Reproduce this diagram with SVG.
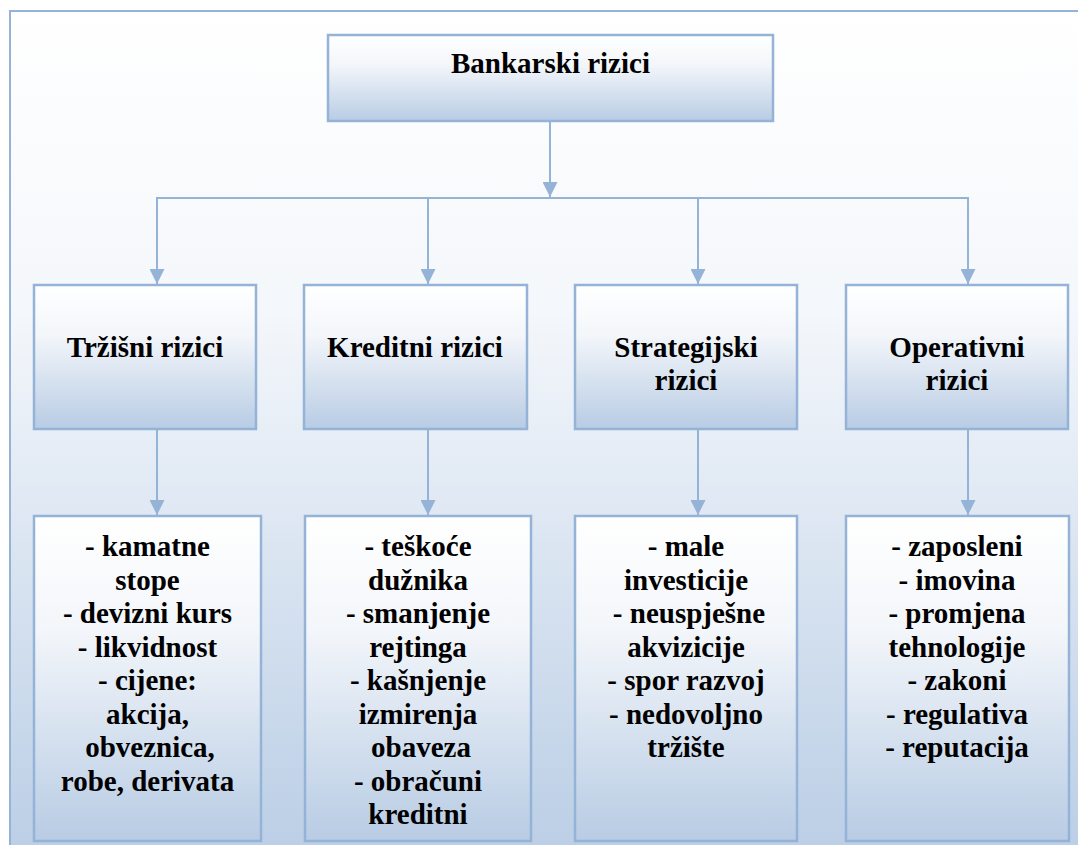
<svg xmlns="http://www.w3.org/2000/svg" width="1078" height="845" viewBox="0 0 1078 845">
  <defs>
    <linearGradient id="bgGrad" x1="0" y1="0" x2="0" y2="1">
      <stop offset="0" stop-color="#ffffff"/>
      <stop offset="0.35" stop-color="#f4f7fb"/>
      <stop offset="1" stop-color="#b9cde5"/>
    </linearGradient>
    <linearGradient id="boxGrad" x1="0" y1="0" x2="0" y2="1">
      <stop offset="0" stop-color="#ffffff"/>
      <stop offset="0.35" stop-color="#f3f6fa"/>
      <stop offset="1" stop-color="#b8cce4"/>
    </linearGradient>
    <marker id="arrow" viewBox="0 0 15 15" refX="15" refY="7.5" markerWidth="15" markerHeight="15" markerUnits="userSpaceOnUse" orient="auto">
      <path d="M0,0 L15,7.5 L0,15 Z" fill="#95b3d7"/>
    </marker>
    <style>
      .box { fill: url(#boxGrad); stroke: #95b3d7; stroke-width: 2.5; }
      .link { fill: none; stroke: #95b3d7; stroke-width: 2; }
      .label { font-family: "Liberation Serif", "Times New Roman", serif; font-weight: bold; font-size: 29px; fill: #000; text-anchor: middle; }
    </style>
  </defs>

  <!-- frame -->
  <rect x="10" y="11" width="1090" height="860" fill="url(#bgGrad)" stroke="#95b3d7" stroke-width="2"/>

  <!-- connectors -->
  <g id="connectors">
    <path class="link" d="M550,121 V197" marker-end="url(#arrow)"/>
    <path class="link" d="M157,285 V198 H968 V285" />
    <path class="link" d="M157,198 V284" marker-end="url(#arrow)"/>
    <path class="link" d="M428,198 V284" marker-end="url(#arrow)"/>
    <path class="link" d="M698,198 V284" marker-end="url(#arrow)"/>
    <path class="link" d="M968,198 V284" marker-end="url(#arrow)"/>
    <path class="link" d="M157,429 V515" marker-end="url(#arrow)"/>
    <path class="link" d="M428,429 V515" marker-end="url(#arrow)"/>
    <path class="link" d="M698,429 V515" marker-end="url(#arrow)"/>
    <path class="link" d="M968,429 V515" marker-end="url(#arrow)"/>
  </g>

  <!-- root -->
  <g id="bankarski-rizici">
    <rect class="box" x="328" y="35" width="445" height="86"/>
    <text class="label" x="550.5" y="73">Bankarski rizici</text>
  </g>

  <!-- categories -->
  <g id="trzisni-rizici">
    <rect class="box" x="34" y="285" width="222" height="144"/>
    <text class="label" x="145" y="357">Tržišni rizici</text>
  </g>
  <g id="kreditni-rizici">
    <rect class="box" x="304" y="285" width="223" height="144"/>
    <text class="label" x="415" y="357">Kreditni rizici</text>
  </g>
  <g id="strategijski-rizici">
    <rect class="box" x="575" y="285" width="222" height="144"/>
    <text class="label" x="686" y="357">Strategijski</text>
    <text class="label" x="686" y="390">rizici</text>
  </g>
  <g id="operativni-rizici">
    <rect class="box" x="846" y="285" width="222" height="144"/>
    <text class="label" x="957" y="357">Operativni</text>
    <text class="label" x="957" y="390">rizici</text>
  </g>

  <!-- detail lists -->
  <g id="trzisni-detalji">
    <rect class="box" x="34" y="516" width="227" height="325"/>
    <text class="label" x="147.5" y="556"><tspan x="147.5">- kamatne</tspan><tspan x="147.5" dy="33.5">stope</tspan><tspan x="147.5" dy="33.5">- devizni kurs</tspan><tspan x="147.5" dy="33.5">- likvidnost</tspan><tspan x="147.5" dy="33.5">- cijene:</tspan><tspan x="147.5" dy="33.5">akcija,</tspan><tspan x="150" dy="33.5">obveznica,</tspan><tspan x="147.5" dy="33.5">robe, derivata</tspan></text>
  </g>
  <g id="kreditni-detalji">
    <rect class="box" x="305" y="516" width="226" height="325"/>
    <text class="label" x="418" y="556"><tspan x="418">- teškoće</tspan><tspan x="418" dy="33.5">dužnika</tspan><tspan x="418" dy="33.5">- smanjenje</tspan><tspan x="418" dy="33.5">rejtinga</tspan><tspan x="418" dy="33.5">- kašnjenje</tspan><tspan x="418" dy="33.5">izmirenja</tspan><tspan x="421" dy="33.5">obaveza</tspan><tspan x="418" dy="33.5">- obračuni</tspan><tspan x="418" dy="33.5">kreditni</tspan></text>
  </g>
  <g id="strategijski-detalji">
    <rect class="box" x="575" y="516" width="222" height="325"/>
    <text class="label" x="686" y="556"><tspan x="686">- male</tspan><tspan x="686" dy="33.5">investicije</tspan><tspan x="689" dy="33.5">- neuspješne</tspan><tspan x="686" dy="33.5">akvizicije</tspan><tspan x="686" dy="33.5">- spor razvoj</tspan><tspan x="686" dy="33.5">- nedovoljno</tspan><tspan x="686" dy="33.5">tržište</tspan></text>
  </g>
  <g id="operativni-detalji">
    <rect class="box" x="846" y="516" width="223" height="325"/>
    <text class="label" x="957" y="556"><tspan x="957">- zaposleni</tspan><tspan x="957" dy="33.5">- imovina</tspan><tspan x="957" dy="33.5">- promjena</tspan><tspan x="957" dy="33.5">tehnologije</tspan><tspan x="957" dy="33.5">- zakoni</tspan><tspan x="957" dy="33.5">- regulativa</tspan><tspan x="957" dy="33.5">- reputacija</tspan></text>
  </g>
</svg>
